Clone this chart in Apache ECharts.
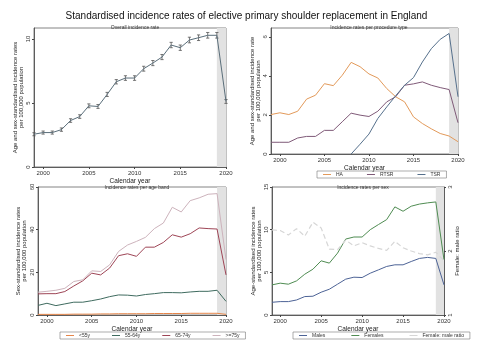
<!DOCTYPE html>
<html><head><meta charset="utf-8">
<script src="https://cdn.jsdelivr.net/npm/echarts@6/dist/echarts.min.js"></script>
<style>html,body{margin:0;padding:0;background:#fff}#c{width:493px;height:349px}</style>
</head><body><div id="c"></div>
<script>
const years = [1999,2000,2001,2002,2003,2004,2005,2006,2007,2008,2009,2010,2011,2012,2013,2014,2015,2016,2017,2018,2019,2020];
const xTicks = [2000,2005,2010,2015,2020];
// Panel 1: overall
const overallRate  = [2.56,2.69,2.69,2.92,3.63,3.94,4.78,4.73,5.67,6.66,6.95,6.95,7.68,8.12,8.59,9.53,9.32,9.92,10.10,10.29,10.29,5.12];
const overallLower = [2.44,2.57,2.57,2.79,3.49,3.80,4.63,4.58,5.51,6.49,6.77,6.77,7.49,7.92,8.39,9.32,9.11,9.70,9.88,10.07,10.07,4.97];
const overallUpper = [2.68,2.81,2.81,3.05,3.77,4.08,4.93,4.88,5.83,6.83,7.13,7.13,7.87,8.32,8.79,9.74,9.53,10.14,10.32,10.51,10.51,5.27];
// Panel 2: procedure type
const rateHA   = [2.02,2.11,2.02,2.19,2.81,3.01,3.60,3.50,4.03,4.69,4.47,4.10,3.89,3.35,2.93,2.67,1.90,1.56,1.29,1.05,0.92,0.63];
const rateRTSR = [0.60,0.60,0.60,0.82,0.90,0.90,1.21,1.21,1.65,2.09,1.99,1.92,2.19,2.67,2.93,3.52,3.59,3.69,3.52,3.40,3.30,1.60];
const rateTSR  = [null,null,null,null,null,null,null,null,null,0.00,0.50,1.02,1.82,2.41,2.98,3.52,3.91,4.71,5.39,5.87,6.17,2.93];
// Panel 3: age bands
const rateU55   = [0.3,0.3,0.3,0.3,0.4,0.4,0.4,0.5,0.5,0.6,0.6,0.6,0.6,0.7,0.7,0.7,0.7,0.8,0.8,0.8,0.8,0.3];
const rate5564  = [4.5,5.5,4.4,5.2,6.0,6.0,6.7,7.5,8.6,9.4,9.3,8.9,9.6,10.0,10.5,10.5,10.4,10.8,11.1,11.1,11.6,6.4];
const rate6574  = [9.9,10.0,10.0,11.0,13.6,16.0,19.6,18.8,22.0,27.8,28.7,27.5,31.8,31.8,34.0,37.6,36.5,38.1,40.8,40.5,40.3,18.8];
const rate75    = [10.7,11.1,11.6,12.5,15.7,16.5,20.7,20.4,23.5,29.8,32.8,34.5,36.4,40.5,43.1,50.5,48.3,53.6,54.9,56.6,56.9,26.0];
// Panel 4: sex
const rateMales   = [1.49,1.57,1.57,1.76,2.16,2.20,2.67,3.02,3.61,4.20,4.43,4.39,4.90,5.29,5.69,5.88,5.88,6.27,6.63,6.75,6.63,3.53];
const rateFemales = [3.53,3.73,3.61,4.00,4.78,5.37,6.35,6.08,7.25,8.90,9.14,9.14,10.00,10.60,11.18,12.67,12.16,12.75,13.00,13.14,13.25,6.47];
const ratioFM     = [2.33,2.32,2.25,2.35,2.23,2.45,2.36,2.03,2.02,2.17,2.08,2.13,2.08,2.04,2.01,2.15,2.05,2.00,1.96,1.94,1.98,1.85];

const pair = a => years.map((y,i)=>[y,a[i]]);
const FS = 6, TC = '#333';
function xAx(gi){return {type:'value',gridIndex:gi,min:1999,max:2020,
  name:'Calendar year',nameLocation:'middle',nameGap:11,nameTextStyle:{fontSize:6.5,color:'#222'},
  axisLine:{lineStyle:{color:'#444',width:0.8}},splitLine:{show:false},
  axisTick:{customValues:xTicks,length:2,lineStyle:{color:'#444'}},
  axisLabel:{customValues:xTicks,fontSize:FS,color:TC,margin:3,formatter:v=>String(v)}};}
function yAx(gi,max,ticks,name,gap){return {type:'value',gridIndex:gi,min:0,max:max,
  name:name,nameLocation:'middle',nameRotate:90,nameGap:gap,nameTextStyle:{fontSize:6,color:'#222',lineHeight:6},
  axisLine:{show:true,lineStyle:{color:'#444',width:0.8}},splitLine:{show:false},
  axisTick:{show:true,customValues:ticks,length:2,lineStyle:{color:'#444'}},
  axisLabel:{customValues:ticks,fontSize:FS,color:TC,rotate:90,margin:3}};}
const shade = {silent:true,itemStyle:{color:'#e2e2e2'},data:[[{xAxis:2019},{xAxis:2020}]]};
function ln(name,gi,data,color,extra){return Object.assign({type:'line',name:name,xAxisIndex:gi,yAxisIndex:gi,data:pair(data),
  showSymbol:false,symbol:'none',lineStyle:{color:color,width:1},itemStyle:{color:color},connectNulls:false},extra||{});}
const legBase = {orient:'horizontal',itemWidth:8,itemHeight:1,itemGap:18,icon:'rect',
  borderColor:'#777',borderWidth:0.6,padding:[1,6],textStyle:{fontSize:5,color:'#333'}};

const grids = [
  {left:34,top:28,width:192,height:139},
  {left:271,top:28,width:187,height:126},
  {left:38,top:187,width:188,height:128},
  {left:272,top:187,width:172,height:128}
].map(g=>Object.assign(g,{show:true,borderColor:'#666',borderWidth:0.8,backgroundColor:'#fff'}));

const option = {
  animation:false,
  textStyle:{fontFamily:'Liberation Sans, Arial, sans-serif'},
  title:[
    {text:'Standardised incidence rates of elective primary shoulder replacement in England',left:'center',top:6,textStyle:{fontSize:10,fontWeight:'normal',color:'#111'}},
    {text:'Overall incidence rate',left:130,textAlign:'center',top:20,textStyle:{fontSize:5,fontWeight:'normal',color:'#333'}},
    {text:'Incidence rates per procedure type',left:364,textAlign:'center',top:20,textStyle:{fontSize:5,fontWeight:'normal',color:'#333'}},
    {text:'Incidence rates per age band',left:132,textAlign:'center',top:180,textStyle:{fontSize:5,fontWeight:'normal',color:'#333'}},
    {text:'Incidence rates per sex',left:358,textAlign:'center',top:180,textStyle:{fontSize:5,fontWeight:'normal',color:'#333'}}
  ],
  grid:grids,
  xAxis:[xAx(0),xAx(1),xAx(2),xAx(3)],
  yAxis:[
    yAx(0,10.86,[0,5,10],'Age and sex-standardised incidence rates\nper 100,000 population',9),
    yAx(1,6.45,[0,2,4,6],'Age and sex-standardised incidence rate\nper 100,000 population',9),
    yAx(2,60,[0,20,40,60],'Sex-standardised incidence rates\nper 100,000 population',11),
    yAx(3,15,[0,5,10,15],'Age-standardised incidence rates\nper 100,000 population',9),
    Object.assign(yAx(3,3,[1,2,3],'Female: male ratio',8),{min:1,max:3,position:'right',nameTextStyle:{fontSize:6,color:'#222'}})
  ],
  legend:[
    Object.assign({},legBase,{data:['HA','RTSR','TSR'],left:317,top:171,itemGap:24}),
    Object.assign({},legBase,{data:['<55y','55-64y','65-74y','>=75y'],left:60,top:332,itemGap:22}),
    Object.assign({},legBase,{data:['Males','Females','Female: male ratio'],left:293,top:332,itemGap:26})
  ],
  series:[
    ln('Overall',0,overallRate,'#5a6e7a',{markArea:shade}),
    {type:'custom',xAxisIndex:0,yAxisIndex:0,silent:true,
     data:years.map((y,i)=>[y,overallLower[i],overallUpper[i]]),
     renderItem:function(params,api){
       const lo=api.coord([api.value(0),api.value(1)]), hi=api.coord([api.value(0),api.value(2)]);
       const w=1.6, st={stroke:'#555',lineWidth:0.8};
       return {type:'group',children:[
         {type:'line',shape:{x1:lo[0],y1:lo[1],x2:hi[0],y2:hi[1]},style:st},
         {type:'line',shape:{x1:lo[0]-w,y1:lo[1],x2:lo[0]+w,y2:lo[1]},style:st},
         {type:'line',shape:{x1:hi[0]-w,y1:hi[1],x2:hi[0]+w,y2:hi[1]},style:st}]};
     }},
    ln('HA',1,rateHA,'#e39a5a',{markArea:shade}),
    ln('RTSR',1,rateRTSR,'#7f5a78'),
    ln('TSR',1,rateTSR,'#56708c'),
    ln('<55y',2,rateU55,'#e6864a',{markArea:shade}),
    ln('55-64y',2,rate5564,'#3f6b5f'),
    ln('65-74y',2,rate6574,'#9e4556'),
    ln('>=75y',2,rate75,'#cdb3bc'),
    ln('Males',3,rateMales,'#4d6396',{markArea:shade}),
    ln('Females',3,rateFemales,'#4f8c52'),
    Object.assign(ln('Female: male ratio',3,ratioFM,'#d6d6d6',{lineStyle:{color:'#d6d6d6',width:1.2,type:[5,3]}}),{yAxisIndex:4})
  ]
};
echarts.init(document.getElementById('c'),null,{renderer:'canvas'}).setOption(option);
</script></body></html>
